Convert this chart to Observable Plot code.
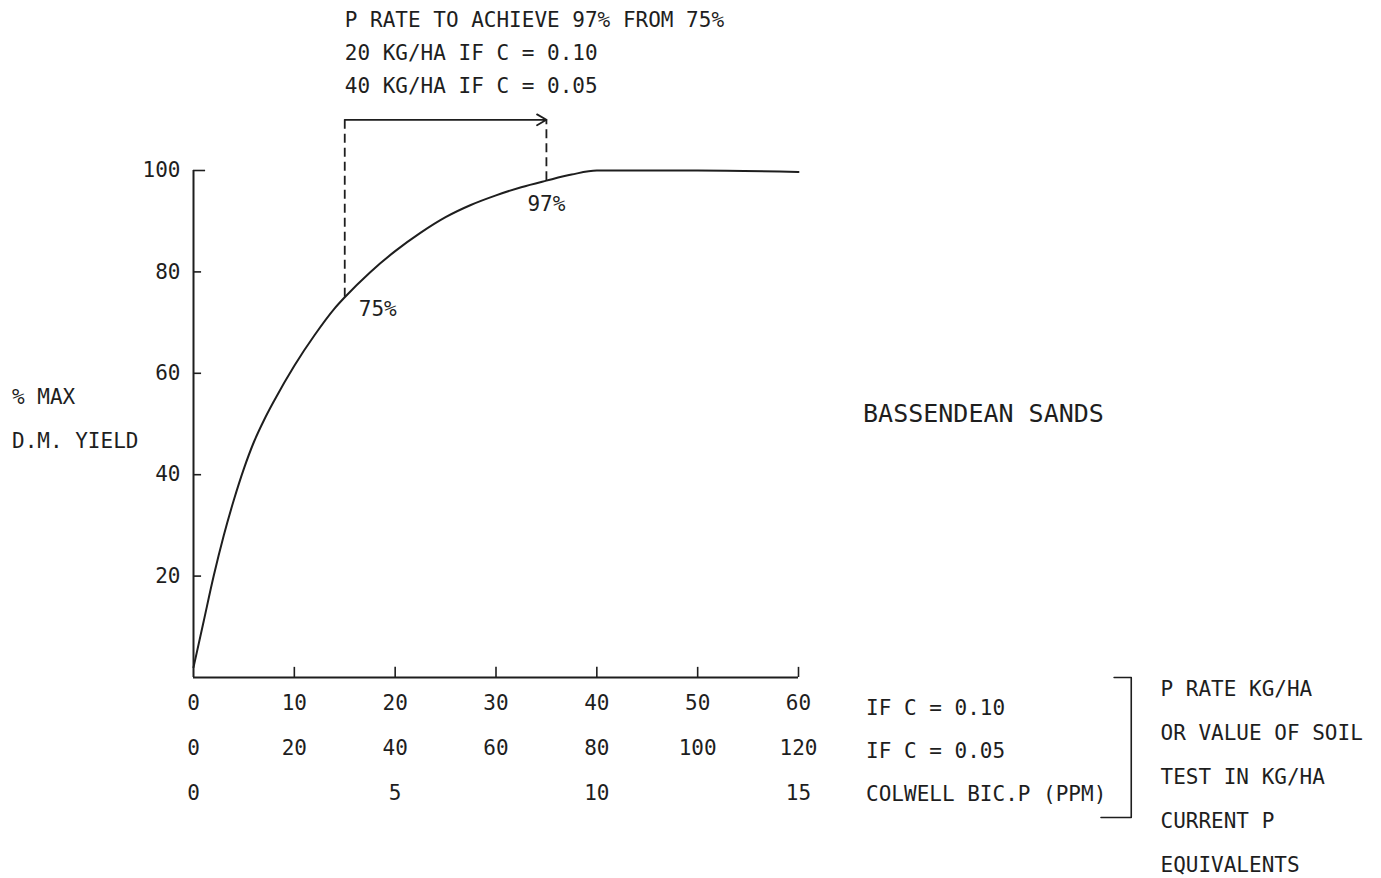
<!DOCTYPE html>
<html><head><meta charset="utf-8">
<script src="https://cdn.jsdelivr.net/npm/d3@7"></script>
<script src="https://cdn.jsdelivr.net/npm/@observablehq/plot@0.6"></script>
<style>body{margin:0;background:#fff}</style>
</head><body><div id="chart"></div>
<script>
// Response curve: P rate (kg/ha, C = 0.10) vs % max D.M. yield
const pRate    = [0, 1, 2, 3, 4, 5, 6, 7, 8, 10, 12, 14, 15, 17.5, 20, 22.5, 25, 27.5, 30, 32.5, 35, 37.5, 40, 50, 60];
const yieldPct = [2, 11, 20, 28, 35, 41.2, 46.5, 50.8, 54.6, 61.5, 67.5, 72.8, 75, 79.9, 84.1, 87.7, 90.8, 93.2, 95.1, 96.7, 98.0, 99.2, 100, 100, 99.7];

// Axis ticks and labels
const yTicks = [20, 40, 60, 80, 100];
const xTicks = [0, 10, 20, 30, 40, 50, 60];
const xLabelsC010 = ["0", "10", "20", "30", "40", "50", "60"];
const xLabelsC005 = ["0", "20", "40", "60", "80", "100", "120"];
const colwellAt = [0, 20, 40, 60];
const colwellLabels = ["0", "5", "10", "15"];

// Annotation: 75% -> 97%
const fromPoint = {x: 15, y: 75, label: "75%"};
const toPoint = {x: 35, y: 98.0, label: "97%"};
const bracketTop = 110;

const titleLines = ["P RATE TO ACHIEVE 97% FROM 75%", "20 KG/HA IF C = 0.10", "40 KG/HA IF C = 0.05"];
const yTitleLines = ["% MAX", "D.M. YIELD"];
const rowLabels = ["IF C = 0.10", "IF C = 0.05", "COLWELL BIC.P (PPM)"];
const noteLines = ["P RATE KG/HA", "OR VALUE OF SOIL", "TEST IN KG/HA", "CURRENT P", "EQUIVALENTS"];
const soilName = "BASSENDEAN SANDS";
const bracketPath = [{x: 91.3, y: 0}, {x: 93, y: 0}, {x: 93, y: -27.6}, {x: 90, y: -27.6}];

const curve = pRate.map((x, i) => ({x, y: yieldPct[i]}));
const FONT = "DejaVu Sans Mono";
const INK = "#1e1e1e";

const chart = Plot.plot({
  width: 1381, height: 878,
  marginLeft: 193, marginRight: 583, marginTop: 170, marginBottom: 201,
  x: {domain: [0, 60], axis: null},
  y: {domain: [0, 100], axis: null},
  style: {fontFamily: FONT, color: INK, background: "#fff"},
  marks: [
    // axes
    Plot.ruleX([0], {y1: 0, y2: 100, stroke: INK, strokeWidth: 2}),
    Plot.ruleY([0], {x1: 0, x2: 60, stroke: INK, strokeWidth: 2}),
    Plot.ruleY(yTicks, {y: d => d, x1: 0, x2: d => d === 100 ? 1.2 : 0.8, stroke: INK, strokeWidth: 1.6}),
    Plot.ruleX(xTicks.slice(1), {x: d => d, y1: 0, y2: 2, stroke: INK, strokeWidth: 1.6}),
    Plot.text(yTicks, {x: 0, y: d => d, text: d => String(d), dx: -13, textAnchor: "end", fontSize: 21, fill: INK}),
    Plot.text(xTicks, {x: d => d, y: 0, text: (d, i) => xLabelsC010[i], dy: 26, fontSize: 21, fill: INK}),
    Plot.text(xTicks, {x: d => d, y: 0, text: (d, i) => xLabelsC005[i], dy: 71, fontSize: 21, fill: INK}),
    Plot.text(colwellAt, {x: d => d, y: 0, text: (d, i) => colwellLabels[i], dy: 116, fontSize: 21, fill: INK}),
    // curve
    Plot.line(curve, {x: "x", y: "y", curve: "monotone-x", stroke: INK, strokeWidth: 2}),
    // dashed bracket
    Plot.ruleX([fromPoint], {x: "x", y1: "y", y2: bracketTop, stroke: INK, strokeWidth: 1.8, strokeDasharray: "9,5"}),
    Plot.ruleX([toPoint], {x: "x", y1: "y", y2: bracketTop, stroke: INK, strokeWidth: 1.8, strokeDasharray: "9,5"}),
    Plot.arrow([{a: fromPoint.x, b: toPoint.x}], {x1: "a", x2: "b", y1: bracketTop, y2: bracketTop, stroke: INK, strokeWidth: 1.8, headLength: 9}),
    Plot.text([fromPoint], {x: "x", y: "y", text: "label", dx: 14, dy: 12, textAnchor: "start", fontSize: 21, fill: INK}),
    Plot.text([toPoint], {x: "x", y: "y", text: "label", dy: 24, fontSize: 21, fill: INK}),
    // title
    Plot.text(titleLines, {x: fromPoint.x, y: (d, i) => 129.6 - i * 6.5, text: d => d, textAnchor: "start", fontSize: 21, fill: INK}),
    // y title
    Plot.text(yTitleLines, {x: -18, y: (d, i) => 55.2 - i * 8.7, text: d => d, textAnchor: "start", fontSize: 21, fill: INK}),
    // soil name
    Plot.text([soilName], {x: 66.4, y: 51.9, text: d => d, textAnchor: "start", fontSize: 25, fill: INK}),
    // row labels
    Plot.text(rowLabels, {x: 66.7, y: (d, i) => -6.1 - i * 8.5, text: d => d, textAnchor: "start", fontSize: 21, fill: INK}),
    // bracket
    Plot.line(bracketPath, {x: "x", y: "y", stroke: INK, strokeWidth: 1.6}),
    // notes
    Plot.text(noteLines, {x: 95.9, y: (d, i) => -2.4 - i * 8.68, text: d => d, textAnchor: "start", fontSize: 21, fill: INK})
  ]
});
document.getElementById("chart").appendChild(chart);
</script>
</body></html>
